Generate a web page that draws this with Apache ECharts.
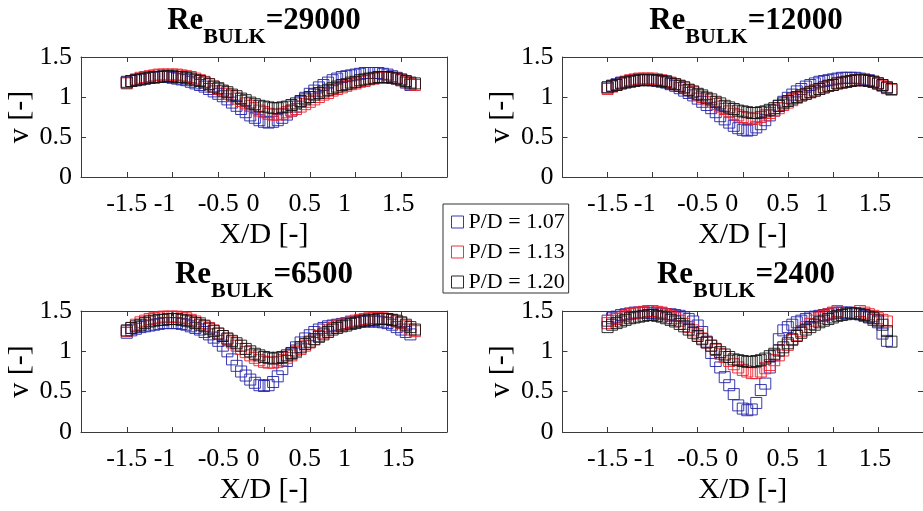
<!DOCTYPE html>
<html>
<head>
<meta charset="utf-8">
<script src="https://cdn.jsdelivr.net/npm/echarts@6/dist/echarts.min.js"></script>
<style>
html,body{margin:0;padding:0;background:#fff;}
#chart{width:923px;height:511px;}
</style>
</head>
<body>
<div id="chart"></div>
<script>
// ---------------- DATA ----------------
const seriesNames = ['P/D = 1.07', 'P/D = 1.13', 'P/D = 1.20'];
const reLabels = ['29000', '12000', '6500', '2400'];
const xTicks = [-1.5, -1, -0.5, 0, 0.5, 1, 1.5];
const yTicks = [0, 0.5, 1, 1.5];

const xPos = [
  -1.5,-1.45,-1.4,-1.35,-1.3,-1.25,-1.2,-1.15,
  -1.1,-1.05,-1,-0.95,-0.9,-0.85,-0.8,-0.75,
  -0.7,-0.65,-0.6,-0.55,-0.5,-0.45,-0.4,-0.35,
  -0.3,-0.25,-0.2,-0.15,-0.1,-0.05,0,0.05,
  0.1,0.15,0.2,0.25,0.3,0.35,0.4,0.45,
  0.5,0.55,0.6,0.65,0.7,0.75,0.8,0.85,
  0.9,0.95,1,1.05,1.1,1.15,1.2,1.25,
  1.3,1.35,1.4,1.45,1.5,1.55,1.6,1.65
];

// Re = 29000
const re29000_pd107 = [
  1.19,1.20,1.21,1.22,1.23,1.24,1.24,1.25,
  1.25,1.25,1.24,1.23,1.22,1.21,1.19,1.17,
  1.15,1.13,1.10,1.07,1.04,1.01,0.97,0.93,
  0.89,0.85,0.81,0.77,0.74,0.71,0.69,0.68,
  0.69,0.71,0.74,0.78,0.83,0.88,0.94,0.99,
  1.04,1.08,1.12,1.15,1.18,1.21,1.23,1.25,
  1.26,1.27,1.28,1.29,1.30,1.30,1.30,1.30,
  1.29,1.28,1.26,1.24,1.21,1.18,1.15,null
];
const re29000_pd113 = [
  1.17,1.20,1.22,1.24,1.25,1.26,1.27,1.28,
  1.28,1.28,1.28,1.28,1.27,1.26,1.25,1.23,
  1.21,1.19,1.16,1.13,1.10,1.07,1.04,1.01,
  0.98,0.95,0.92,0.89,0.86,0.83,0.81,0.79,
  0.78,0.78,0.79,0.81,0.83,0.85,0.88,0.91,
  0.94,0.97,1.00,1.03,1.05,1.08,1.10,1.12,
  1.14,1.16,1.17,1.19,1.20,1.22,1.23,1.24,
  1.24,1.24,1.24,1.23,1.21,1.19,1.16,1.15
];
const re29000_pd120 = [
  1.18,1.20,1.21,1.22,1.23,1.24,1.25,1.25,
  1.26,1.26,1.26,1.25,1.25,1.24,1.23,1.21,
  1.20,1.18,1.16,1.13,1.11,1.08,1.06,1.03,
  1.01,0.98,0.96,0.93,0.91,0.89,0.88,0.87,
  0.86,0.86,0.87,0.88,0.90,0.92,0.95,0.97,
  1.00,1.03,1.05,1.07,1.09,1.11,1.13,1.15,
  1.16,1.18,1.19,1.21,1.22,1.23,1.24,1.25,
  1.25,1.25,1.24,1.23,1.22,1.20,1.18,1.17
];

// Re = 12000
const re12000_pd107 = [
  1.12,1.14,1.16,1.18,1.19,1.20,1.21,1.22,
  1.22,1.22,1.21,1.20,1.19,1.18,1.16,1.14,
  1.11,1.08,1.05,1.02,0.98,0.94,0.90,0.86,
  0.81,0.76,0.72,0.68,0.64,0.61,0.59,0.58,
  0.59,0.62,0.66,0.71,0.77,0.83,0.89,0.94,
  0.99,1.03,1.07,1.10,1.13,1.15,1.17,1.19,
  1.20,1.21,1.22,1.23,1.24,1.24,1.24,1.24,
  1.23,1.22,1.21,1.19,1.17,1.15,1.12,null
];
const re12000_pd113 = [
  1.10,1.13,1.15,1.17,1.19,1.21,1.22,1.23,
  1.23,1.23,1.23,1.22,1.21,1.20,1.18,1.16,
  1.14,1.12,1.09,1.06,1.03,1.00,0.97,0.94,
  0.91,0.88,0.85,0.82,0.79,0.77,0.75,0.74,
  0.73,0.73,0.75,0.77,0.80,0.83,0.86,0.90,
  0.93,0.96,0.99,1.02,1.04,1.06,1.08,1.10,
  1.12,1.14,1.15,1.17,1.18,1.19,1.20,1.21,
  1.21,1.21,1.20,1.19,1.17,1.14,1.11,1.09
];
const re12000_pd120 = [
  1.12,1.14,1.15,1.17,1.18,1.19,1.20,1.21,
  1.21,1.21,1.21,1.21,1.20,1.19,1.17,1.16,
  1.14,1.12,1.09,1.07,1.04,1.02,0.99,0.97,
  0.94,0.92,0.89,0.87,0.85,0.83,0.82,0.81,
  0.80,0.80,0.81,0.82,0.84,0.86,0.89,0.92,
  0.95,0.98,1.00,1.02,1.04,1.06,1.08,1.10,
  1.12,1.14,1.15,1.17,1.18,1.19,1.20,1.21,
  1.21,1.21,1.20,1.19,1.17,1.15,1.12,1.10
];

// Re = 6500
const re6500_pd107 = [
  1.23,1.26,1.28,1.30,1.31,1.32,1.33,1.34,
  1.35,1.35,1.35,1.35,1.34,1.33,1.31,1.29,
  1.27,1.24,1.21,1.17,1.13,1.07,1.00,0.90,
  0.82,0.75,0.70,0.65,0.61,0.58,0.57,0.58,
  0.62,0.69,0.78,0.88,0.97,1.05,1.11,1.16,
  1.20,1.24,1.27,1.29,1.31,1.32,1.33,1.34,
  1.35,1.36,1.36,1.37,1.37,1.37,1.37,1.37,
  1.36,1.35,1.33,1.30,1.27,1.24,1.21,null
];
const re6500_pd113 = [
  1.25,1.29,1.33,1.36,1.38,1.40,1.41,1.42,
  1.43,1.43,1.43,1.43,1.42,1.41,1.39,1.37,
  1.35,1.32,1.29,1.26,1.22,1.19,1.15,1.11,
  1.07,1.03,0.99,0.95,0.92,0.89,0.87,0.86,
  0.86,0.87,0.89,0.92,0.95,0.99,1.03,1.07,
  1.11,1.15,1.19,1.23,1.26,1.29,1.31,1.33,
  1.35,1.37,1.38,1.39,1.40,1.41,1.41,1.41,
  1.41,1.40,1.39,1.37,1.35,1.31,1.27,1.25
];
const re6500_pd120 = [
  1.26,1.29,1.31,1.33,1.35,1.37,1.38,1.39,
  1.39,1.40,1.40,1.40,1.39,1.38,1.37,1.35,
  1.33,1.31,1.28,1.25,1.22,1.19,1.16,1.13,
  1.10,1.07,1.03,1.00,0.97,0.95,0.93,0.92,
  0.91,0.92,0.93,0.95,0.98,1.01,1.05,1.09,
  1.12,1.15,1.18,1.21,1.24,1.27,1.29,1.31,
  1.32,1.34,1.35,1.37,1.38,1.39,1.39,1.40,
  1.40,1.40,1.39,1.38,1.36,1.33,1.30,1.27
];

// Re = 2400
const re2400_pd107 = [
  1.38,1.41,1.43,1.45,1.46,1.47,1.48,1.48,
  1.48,1.48,1.47,1.47,1.47,1.46,1.46,1.45,
  1.44,1.42,1.40,1.37,1.32,1.24,1.12,0.98,
  0.88,0.80,0.68,0.58,0.47,0.33,0.29,0.27,
  0.28,0.36,0.52,0.60,0.80,0.95,1.15,1.26,
  1.30,1.33,1.36,1.38,1.40,1.42,1.43,1.44,
  1.45,1.46,1.47,1.48,1.48,1.48,1.48,1.47,
  1.46,1.44,1.42,1.39,1.36,1.22,1.13,null
];
const re2400_pd113 = [
  1.35,1.38,1.40,1.42,1.44,1.46,1.47,1.48,
  1.49,1.50,1.50,1.49,1.48,1.46,1.44,1.41,
  1.38,1.34,1.30,1.26,1.21,1.16,1.11,1.07,
  1.02,0.97,0.93,0.88,0.84,0.80,0.77,0.75,
  0.73,0.73,0.75,0.79,0.83,0.89,0.95,1.01,
  1.08,1.14,1.20,1.25,1.30,1.34,1.38,1.41,
  1.44,1.46,1.48,1.50,1.51,1.52,1.52,1.51,
  1.50,1.48,1.46,1.44,1.41,1.39,1.37,null
];
const re2400_pd120 = [
  1.30,1.33,1.35,1.37,1.39,1.41,1.42,1.43,
  1.44,1.45,1.45,1.44,1.43,1.41,1.39,1.37,
  1.34,1.31,1.27,1.23,1.19,1.15,1.11,1.07,
  1.03,0.99,0.96,0.93,0.90,0.89,0.88,0.87,
  0.87,0.88,0.89,0.91,0.94,0.97,1.01,1.05,
  1.10,1.15,1.19,1.23,1.27,1.30,1.33,1.36,
  1.38,1.40,1.42,1.44,1.45,1.46,1.47,1.47,
  1.46,1.45,1.43,1.41,1.38,1.33,1.25,1.12
];

const panelData = [
  [re29000_pd107, re29000_pd113, re29000_pd120],
  [re12000_pd107, re12000_pd113, re12000_pd120],
  [re6500_pd107, re6500_pd113, re6500_pd120],
  [re2400_pd107, re2400_pd113, re2400_pd120]
];

// ---------------- STYLE / LAYOUT ----------------
const FONT = '"Liberation Serif", "Times New Roman", Times, serif';
const colors = ['#2424a8', '#ec1f2b', '#151515'];
const axisColor = '#3a3a3a';
const grids = [
  {left: 81, top: 57, width: 366, height: 120},
  {left: 562.5, top: 57, width: 367.5, height: 120},
  {left: 81, top: 311, width: 366, height: 121},
  {left: 562.5, top: 311, width: 367.5, height: 121}
];
const titleCenters = [[264, 5], [746, 5], [264, 259], [746, 259]];
const labelShift = {'-1': 8, '0': 11, '0.5': 5, '1': 11, '1.5': 3};

const xRich = {};
[0, 3, 5, 8, 11].forEach(s => {
  xRich['s' + s] = {fontFamily: FONT, fontSize: 26, color: '#000', padding: [0, 2 * s, 0, 0]};
});
function xFmt(v) {
  const s = labelShift[String(v)] || 0;
  return '{s' + s + '|' + v + '}';
}

const xAxes = [], yAxes = [], series = [], titles = [];
grids.forEach((g, p) => {
  const lineStyle = {color: axisColor, width: 1};
  xAxes.push({
    gridIndex: p, type: 'value', min: -2, max: 2, interval: 0.5, position: 'bottom',
    axisLine: {show: true, onZero: false, lineStyle},
    axisTick: {show: true, inside: true, length: 5, lineStyle},
    axisLabel: {show: true, showMinLabel: false, showMaxLabel: false, margin: 14,
      fontFamily: FONT, fontSize: 26, color: '#000', formatter: xFmt, rich: xRich},
    splitLine: {show: false},
    name: 'X/D [-]', nameLocation: 'middle', nameGap: 43,
    nameTextStyle: {fontFamily: FONT, fontSize: 30, color: '#000'}
  });
  xAxes.push({
    gridIndex: p, type: 'value', min: -2, max: 2, interval: 0.5, position: 'top',
    axisLine: {show: true, onZero: false, lineStyle},
    axisTick: {show: true, inside: true, length: 5, lineStyle},
    axisLabel: {show: false}, splitLine: {show: false}
  });
  yAxes.push({
    gridIndex: p, type: 'value', min: 0, max: 1.5, interval: 0.5, position: 'left',
    axisLine: {show: true, onZero: false, lineStyle},
    axisTick: {show: true, inside: true, length: 5, lineStyle},
    axisLabel: {show: true, margin: 9, fontFamily: FONT, fontSize: 26, color: '#000'},
    splitLine: {show: false},
    name: 'v [-]', nameLocation: 'middle', nameGap: 46,
    nameTextStyle: {fontFamily: FONT, fontSize: 30, color: '#000'}
  });
  yAxes.push({
    gridIndex: p, type: 'value', min: 0, max: 1.5, interval: 0.5, position: 'right',
    axisLine: {show: true, onZero: false, lineStyle},
    axisTick: {show: true, inside: true, length: 5, lineStyle},
    axisLabel: {show: false}, splitLine: {show: false}
  });
  panelData[p].forEach((ys, k) => {
    const pts = [];
    xPos.forEach((x, i) => { if (ys[i] != null) pts.push([x, ys[i]]); });
    series.push({
      type: 'scatter', name: seriesNames[k],
      xAxisIndex: 2 * p, yAxisIndex: 2 * p,
      data: pts, symbol: 'rect', symbolSize: 11,
      itemStyle: {color: 'rgba(0,0,0,0)', borderColor: colors[k], borderWidth: 1, opacity: 0.9},
      silent: true, emphasis: {disabled: true}
    });
  });
  titles.push({
    left: titleCenters[p][0], top: titleCenters[p][1], textAlign: 'center', padding: 0,
    text: '{a|Re}{b|BULK}{a|=' + reLabels[p] + '}',
    textStyle: {rich: {
      a: {fontFamily: FONT, fontWeight: 'bold', fontSize: 31, color: '#000', padding: [0, 0, 17, 0]},
      b: {fontFamily: FONT, fontWeight: 'bold', fontSize: 22, color: '#000', padding: [17, 0, 0, 0]}
    }}
  });
});

const chart = echarts.init(document.getElementById('chart'), null, {renderer: 'canvas'});
chart.setOption({
  animation: false,
  backgroundColor: '#fff',
  title: titles,
  grid: grids.map(g => Object.assign({containLabel: false, show: false}, g)),
  xAxis: xAxes,
  yAxis: yAxes,
  legend: {
    data: seriesNames.map((n, k) => ({name: n, icon: 'rect',
      itemStyle: {color: 'rgba(0,0,0,0)', borderColor: colors[k], borderWidth: 1}})),
    orient: 'vertical', left: 443, top: 204,
    padding: [7, 4, 0, 8], itemGap: 8, itemWidth: 12, itemHeight: 12,
    borderColor: '#333', borderWidth: 1, backgroundColor: '#fff',
    selectedMode: false,
    textStyle: {fontFamily: FONT, fontSize: 22, color: '#000', lineHeight: 18}
  },
  series: series
});
</script>
</body>
</html>
